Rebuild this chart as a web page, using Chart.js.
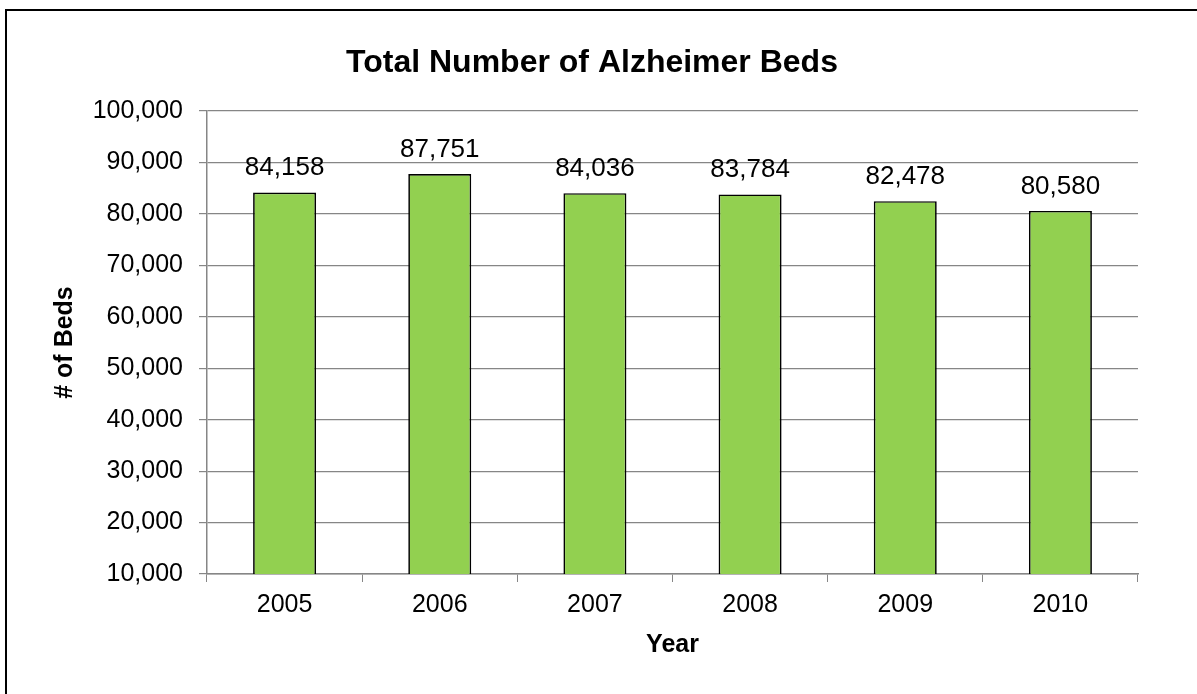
<!DOCTYPE html>
<html lang="en">
<head>
    <meta charset="UTF-8">
    <script src="https://cdn.jsdelivr.net/npm/chart.js"></script>
    <style>
        body {
            margin: 0;
            background: #fff;
        }

        .wrap {
            width: 1197px;
            height: 694px;
            position: relative;
        }
    </style>
</head>
<body>
    <div class="wrap">
        <canvas id="bedsChart"></canvas>
    </div>

    <script>
        const years = ['2005', '2006', '2007', '2008', '2009', '2010'];
        const beds = [84158, 87751, 84036, 83784, 82478, 80580];
        const chartTitle = 'Total Number of Alzheimer Beds';
        const yTitle = '# of Beds';
        const xTitle = 'Year';

        const FONT = '"Liberation Sans", Arial, sans-serif';
        const GRID = '#868686';

        const fmt = v => v.toLocaleString('en-US');

        // frame, title and value labels
        const extras = {
            id: 'extras',
            afterDraw(chart) {
                const ctx = chart.ctx;
                ctx.save();
                ctx.strokeStyle = '#000';
                ctx.lineWidth = 2;
                ctx.strokeRect(6, 10, 2000, 2000);

                ctx.fillStyle = '#000';
                ctx.textAlign = 'center';
                ctx.textBaseline = 'alphabetic';
                ctx.font = 'bold 32px ' + FONT;
                ctx.fillText(chartTitle, 592, 72);

                ctx.font = '26px ' + FONT;
                chart.getDatasetMeta(0).data.forEach((bar, i) => {
                    ctx.fillText(fmt(beds[i]), bar.x, bar.y - 17);
                });
                ctx.restore();
            }
        };

        new Chart(document.getElementById('bedsChart'), {
            type: 'bar',
            data: {
                labels: years,
                datasets: [{
                    data: beds,
                    backgroundColor: '#92D050',
                    borderColor: '#000',
                    borderWidth: 1.7,
                    barPercentage: 0.406,
                    categoryPercentage: 1
                }]
            },
            options: {
                responsive: true,
                maintainAspectRatio: false,
                animation: false,
                layout: {
                    padding: { left: 46, right: 59, top: 111, bottom: 30 }
                },
                plugins: {
                    legend: { display: false },
                    title: { display: false },
                    tooltip: { enabled: false }
                },
                scales: {
                    x: {
                        afterFit(scale) { scale.height = 90; },
                        grid: {
                            offset: true,
                            drawOnChartArea: false,
                            color: GRID,
                            tickLength: 8
                        },
                        border: { color: GRID, width: 1.5 },
                        ticks: {
                            color: '#000',
                            padding: 8,
                            font: { family: FONT, size: 25 }
                        },
                        title: {
                            display: true,
                            text: xTitle,
                            color: '#000',
                            font: { family: FONT, size: 25, weight: 'bold' }
                        }
                    },
                    y: {
                        min: 10000,
                        max: 100000,
                        afterFit(scale) { scale.width = 161; },
                        grid: {
                            color: GRID,
                            lineWidth: 1.2,
                            tickLength: 8
                        },
                        border: { color: GRID, width: 1.5 },
                        ticks: {
                            stepSize: 10000,
                            color: '#000',
                            padding: 16,
                            font: { family: FONT, size: 25 },
                            callback: v => fmt(v)
                        },
                        title: {
                            display: true,
                            text: yTitle,
                            color: '#000',
                            font: { family: FONT, size: 25, weight: 'bold' }
                        }
                    }
                }
            },
            plugins: [extras]
        });
    </script>
</body>
</html>
